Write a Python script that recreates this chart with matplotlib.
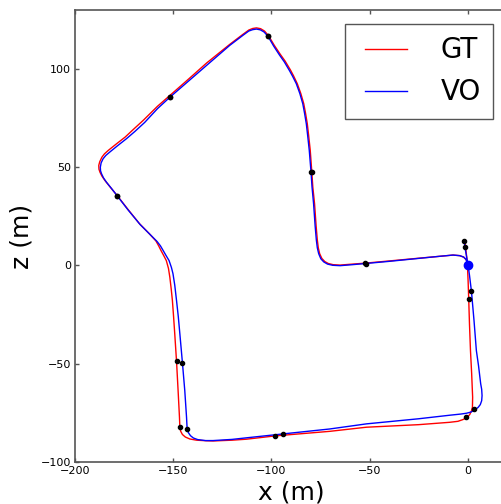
import matplotlib
matplotlib.use('Agg')
import matplotlib.pyplot as plt
from matplotlib.ticker import MultipleLocator

gt_x = [0.0, -0.2, -0.8, -2.0, -4.0, -7.5, -15.0, -26.0, -40.0, -52.0,
        -60.0, -65.0, -68.5, -71.0, -72.8, -74.3, -75.4, -76.1, -76.6, -77.2,
        -78.0, -78.9, -79.4, -80.2, -81.0, -81.7, -82.6, -83.5, -85.0, -86.8,
        -88.7, -90.3, -93.0, -95.5, -98.5, -101.5, -103.5, -105.5, -107.6, -109.5,
        -111.5, -114.5, -121.2, -133.0, -142.0, -151.7, -158.0, -165.3, -170.0, -174.5,
        -179.0, -183.0, -185.0, -186.3, -187.4, -187.9, -187.8, -187.3, -186.3, -184.8,
        -182.0, -178.7, -173.0, -167.2, -162.0, -158.8, -157.4, -156.2, -154.8, -153.5,
        -152.4, -151.7, -151.0, -150.4, -149.8, -149.2, -148.3, -147.5, -146.8, -146.6,
        -146.2, -145.3, -143.8, -141.5, -138.1, -133.0, -129.7, -120.0, -112.7, -97.9,
        -70.3, -51.6, -25.0, -9.2, -5.0, -2.4, -0.2, 1.0, 1.9, 2.4,
        2.5, 2.0, 1.4, 0.9, 0.5, 0.2, -0.2, -0.7, -1.2, -1.4]
gt_z = [0.0, 1.5, 3.0, 4.2, 5.0, 5.3, 4.6, 3.6, 2.3, 1.2,
        0.6, 0.2, 0.4, 1.0, 2.0, 3.6, 6.0, 9.0, 13.0, 20.0,
        31.4, 40.0, 47.5, 58.6, 66.0, 72.1, 77.5, 82.3, 87.5, 92.5,
        96.5, 99.5, 104.0, 107.5, 112.0, 117.0, 119.3, 120.5, 120.9, 120.6,
        119.8, 117.6, 112.5, 103.0, 95.0, 86.5, 81.0, 73.8, 69.5, 65.3,
        61.8, 58.6, 56.8, 55.1, 52.8, 50.9, 49.0, 47.5, 45.5, 43.3,
        39.8, 35.8, 28.5, 21.3, 16.0, 12.5, 10.0, 7.6, 5.0, 2.5,
        -1.5, -6.0, -12.0, -17.8, -26.0, -34.8, -48.7, -63.6, -77.2, -82.3,
        -84.3, -86.0, -87.3, -88.3, -88.9, -89.2, -89.3, -88.9, -88.4, -86.7,
        -84.4, -82.3, -81.0, -79.8, -79.3, -78.4, -77.2, -75.9, -74.0, -72.1,
        -67.0, -55.0, -43.3, -30.0, -17.0, -8.0, 1.0, 6.0, 10.0, 12.0]

# visual odometry trajectory
vo_x = [0.0, -0.3, -0.9, -2.1, -4.1, -7.5, -15.0, -26.0, -40.0, -52.0,
        -60.0, -65.0, -68.8, -71.4, -73.3, -74.8, -75.9, -76.6, -77.1, -77.7,
        -78.5, -79.3, -79.8, -80.7, -81.5, -82.2, -83.1, -84.0, -85.5, -87.3,
        -89.2, -90.8, -93.4, -95.8, -98.8, -101.7, -103.7, -105.6, -107.6, -109.5,
        -111.5, -114.5, -121.2, -133.0, -142.0, -151.7, -158.0, -164.5, -169.5, -173.8,
        -178.5, -182.3, -184.3, -185.7, -186.7, -187.1, -187.0, -186.5, -185.5, -184.0,
        -181.5, -178.7, -173.0, -166.8, -161.5, -158.2, -156.5, -155.1, -153.6, -152.1,
        -150.9, -150.1, -149.2, -148.3, -147.4, -146.6, -145.3, -144.1, -143.2, -142.9,
        -142.3, -141.2, -139.7, -137.5, -133.5, -129.7, -120.0, -112.7, -94.0, -70.3,
        -51.6, -25.0, -9.2, -3.5, -0.7, 1.6, 3.6, 5.3, 6.4, 7.1,
        7.3, 7.1, 6.6, 5.5, 4.4, 3.2, 1.9, 0.9, 0.2, -0.5,
        -1.2, -1.9]
vo_z = [0.0, 1.6, 3.1, 4.3, 5.0, 5.3, 4.6, 3.5, 2.1, 1.0,
        0.3, -0.1, 0.1, 0.7, 1.8, 3.4, 6.0, 9.0, 13.0, 20.0,
        31.4, 40.0, 47.5, 58.6, 66.0, 72.1, 77.5, 82.3, 87.5, 92.5,
        96.3, 99.2, 103.6, 107.0, 111.6, 116.6, 118.8, 119.9, 120.3, 120.0,
        119.3, 117.1, 112.0, 101.8, 94.0, 85.6, 79.8, 72.8, 68.2, 64.5,
        60.8, 57.7, 56.0, 54.3, 52.2, 50.0, 48.2, 46.7, 44.6, 42.4,
        39.3, 35.7, 28.3, 20.8, 15.5, 12.2, 10.0, 7.6, 5.0, 2.5,
        -1.0, -4.2, -10.0, -17.8, -26.0, -34.8, -49.4, -63.6, -77.2, -83.1,
        -85.0, -86.6, -87.8, -88.6, -89.1, -89.1, -88.5, -87.7, -85.7, -83.2,
        -80.6, -78.0, -76.2, -75.6, -75.2, -74.6, -73.5, -72.2, -70.8, -68.8,
        -66.2, -63.0, -60.2, -51.0, -43.3, -28.0, -13.2, -5.0, 0.0, 4.0,
        8.0, 12.7]

# frame markers every 100 frames on both tracks
gt_mark_x = [-52.2, -79.5, -101.5, -151.7, -178.6, -148.3, -146.6, -97.9, -1.0, 0.5, -1.5]
gt_mark_z = [1.2, 47.5, 117.0, 85.8, 35.6, -48.7, -82.3, -86.7, -77.0, -17.0, 9.3]
vo_mark_x = [-51.9, -79.8, -101.7, -151.7, -178.6, -145.3, -142.9, -94.0, 3.1, 1.9, -1.9]
vo_mark_z = [1.0, 47.5, 116.6, 85.6, 35.6, -49.4, -83.2, -85.7, -73.2, -13.2, 12.7]

start_x = [0.0]
start_z = [0.0]

fig = plt.figure(figsize=(5.01, 5.04), dpi=100)
ax = fig.add_axes([75 / 501, 42 / 504, 432 / 501, 452 / 504])

ax.plot(gt_x, gt_z, color='r', lw=1.0, label='GT')
ax.plot(vo_x, vo_z, color='b', lw=1.0, label='VO')
ax.plot(gt_mark_x, gt_mark_z, 'k.', ms=6)
ax.plot(vo_mark_x, vo_mark_z, 'k.', ms=6)
ax.plot(start_x, start_z, 'bo', ms=6)

ax.set_xlim(-200, 20)
ax.set_ylim(-100, 130)
ax.xaxis.set_major_locator(MultipleLocator(50))
ax.yaxis.set_major_locator(MultipleLocator(50))

for s in ax.spines.values():
    s.set_color('#555555')
    s.set_linewidth(1.2)
ax.tick_params(direction='in', top=True, right=True, length=3, width=1,
               color='#555555', labelsize=8, pad=3)

ax.set_xlabel('x (m)', fontsize=18, labelpad=3)
ax.set_ylabel('z (m)', fontsize=18, labelpad=5)

# numpoints=2 leaves a small pad on both ends of the legend line, like old mpl
leg = ax.legend(loc='upper right', fontsize=20, fancybox=False, framealpha=1,
                numpoints=2, handlelength=2.1, handletextpad=0.9,
                borderaxespad=0.5, borderpad=0.45)
leg.get_frame().set_edgecolor('#555555')
leg.get_frame().set_linewidth(1.0)

fig.savefig('out.png', dpi=100)
